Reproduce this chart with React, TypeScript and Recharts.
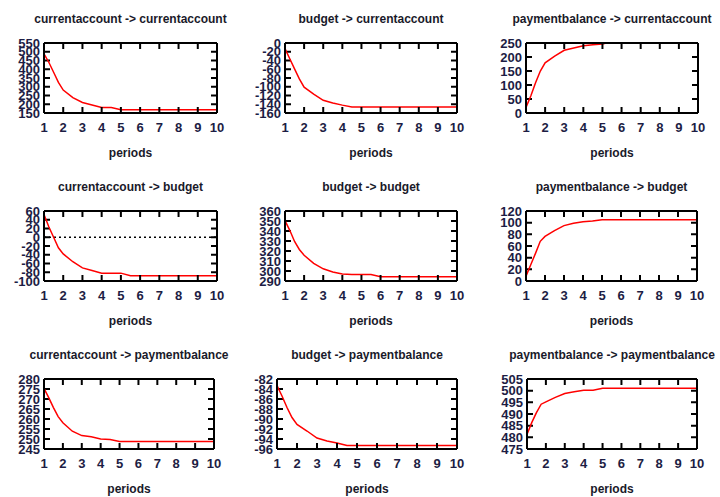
import React from 'react';
import { ComposedChart, Line, Scatter, XAxis, YAxis, ReferenceLine } from 'recharts';

const periods = [1, 1.25, 1.5, 1.75, 2, 2.5, 3, 3.5, 4, 4.5, 5, 5.5, 6, 7, 8, 9, 10];
const periodTicks = [1, 2, 3, 4, 5, 6, 7, 8, 9, 10];

// responses (one array per impulse -> response pair)
const caToCa = [488, 440, 383, 325, 281, 238, 210, 196, 181, 181, 169, 169, 169, 169, 169, 169, 169];
const budgetToCa = [-13, -36, -59, -82, -101, -117, -131, -137, -142, -146, -146, -146, -146, -146, -146, -146, -146];
const pbToCa = [20, 61, 108, 150, 179, 203, 224, 232, 240, 244, 246, 255, 255, 255, 255, 255, 255];
const caToBudget = [52, 24, 0, -24, -38, -56, -70, -76, -82, -82, -82, -88, -88, -88, -88, -88, -88];
const budgetToBudget = [350.4, 340.7, 329.5, 321.5, 315.7, 307.7, 302.2, 299, 297, 296.4, 296.4, 296.4, 294.2, 294.2, 294.2, 294.2, 294.2];
const pbToBudget = [8.4, 28, 47.4, 68, 76.5, 86.5, 95, 99, 101.6, 102.7, 105, 105, 105, 105, 105, 105, 105];
const caToPb = [275.3, 270.7, 265.7, 261.2, 258.1, 253.9, 251.7, 251.1, 250, 249.7, 248.8, 248.8, 248.8, 248.8, 248.8, 248.8, 248.8];
const budgetToPb = [-83.3, -85.4, -87.7, -89.7, -91.1, -92.4, -93.8, -94.4, -94.8, -95.3, -95.3, -95.3, -95.3, -95.3, -95.3, -95.3, -95.3];
const pbToPb = [481.2, 486.3, 490.6, 494.2, 495.2, 497.1, 498.8, 499.5, 500.2, 500.2, 501, 501, 501, 501, 501, 501, 501];

// y tick labels
const caToCaTicks = [150, 200, 250, 300, 350, 400, 450, 500, 550];
const budgetToCaTicks = [-160, -140, -120, -100, -80, -60, -40, -20, 0];
const pbToCaTicks = [0, 50, 100, 150, 200, 250];
const caToBudgetTicks = [-100, -80, -60, -40, -20, 0, 20, 40, 60];
const budgetToBudgetTicks = [290, 300, 310, 320, 330, 340, 350, 360];
const pbToBudgetTicks = [0, 20, 40, 60, 80, 100, 120];
const caToPbTicks = [245, 250, 255, 260, 265, 270, 275, 280];
const budgetToPbTicks = [-96, -94, -92, -90, -88, -86, -84, -82];
const pbToPbTicks = [475, 480, 485, 490, 495, 500, 505];

const titles = [
  'currentaccount -> currentaccount', 'budget -> currentaccount', 'paymentbalance -> currentaccount',
  'currentaccount -> budget', 'budget -> budget', 'paymentbalance -> budget',
  'currentaccount -> paymentbalance', 'budget -> paymentbalance', 'paymentbalance -> paymentbalance',
];
const series = [caToCa, budgetToCa, pbToCa, caToBudget, budgetToBudget, pbToBudget, caToPb, budgetToPb, pbToPb];
const yTicks = [caToCaTicks, budgetToCaTicks, pbToCaTicks, caToBudgetTicks, budgetToBudgetTicks, pbToBudgetTicks, caToPbTicks, budgetToPbTicks, pbToPbTicks];

// plot box left/right edges in page pixels
const boxes = [
  [44, 217], [285, 457], [526, 698],
  [44, 217], [285, 457], [526, 697],
  [44, 214], [277, 457], [527, 697],
];

const ROW_H = 168;
const BOX_TOP = 43;
const BOX_H = 70;
const TICK_LEN = 6;

const FONT = 'Liberation Sans, Arial, sans-serif';
const tickText = { fontFamily: FONT, fontWeight: 700, fontSize: 13, fill: '#1d1d44' };
const textStyle: React.CSSProperties = {
  position: 'absolute',
  width: 260,
  textAlign: 'center',
  fontFamily: FONT,
  fontWeight: 700,
  fontSize: 12,
  lineHeight: '14px',
  color: '#1a1a2a',
  whiteSpace: 'nowrap',
};
const frame = { stroke: '#000', strokeWidth: 2 };

function XTick(props: any) {
  const { x, y, payload } = props;
  return (
    <text x={x} y={y} dy="0.71em" textAnchor="middle" {...tickText}>
      {payload.value}
    </text>
  );
}

function YTick(props: any) {
  const { x, y, payload } = props;
  return (
    <text x={x} y={y} dy="0.36em" textAnchor="end" {...tickText}>
      {payload.value}
    </text>
  );
}

// tick mark shapes for the scatter series sitting on the top / bottom edge
function DownTick(props: any) {
  const { cx, cy } = props;
  return <path d={`M${cx},${cy}v${TICK_LEN}`} stroke="#000" strokeWidth={2} fill="none" />;
}
function UpTick(props: any) {
  const { cx, cy } = props;
  return <path d={`M${cx},${cy}v${-TICK_LEN}`} stroke="#000" strokeWidth={2} fill="none" />;
}

function Panel({ index }: { index: number }) {
  const row = Math.floor(index / 3);
  const col = index % 3;
  const colLeft = col * 240;
  const top = row * ROW_H;
  const [boxLeft, boxRight] = boxes[index];
  const boxW = boxRight - boxLeft;
  const ticks = yTicks[index];
  const yMin = ticks[0];
  const yMax = ticks[ticks.length - 1];
  const data = periods.map((x, i) => ({ x, y: series[index][i] }));
  const topMarks = periodTicks.map((x) => ({ x, y: yMax }));
  const bottomMarks = periodTicks.map((x) => ({ x, y: yMin }));
  const center = (boxLeft + boxRight) / 2;

  // dash pattern leaves only a short inward tick at each end of the line
  const yTickDash = `${TICK_LEN} ${boxW - 2 * TICK_LEN} ${TICK_LEN} 0`;

  return (
    <>
      <div style={{ ...textStyle, left: center - 130, top: top + BOX_TOP - 31 }}>{titles[index]}</div>
      <div style={{ ...textStyle, left: center - 130, top: top + BOX_TOP + BOX_H + 33 }}>periods</div>
      <div style={{ position: 'absolute', left: colLeft, top }}>
        <ComposedChart
          width={240}
          height={ROW_H}
          data={data}
          margin={{ top: BOX_TOP, right: colLeft + 240 - boxRight, bottom: 0, left: 0 }}
        >
          <XAxis
            dataKey="x"
            type="number"
            domain={[1, 10]}
            ticks={periodTicks}
            interval={0}
            height={ROW_H - BOX_TOP - BOX_H}
            tickSize={0}
            tickMargin={10}
            axisLine={frame}
            tickLine={false}
            tick={XTick}
          />
          <YAxis
            type="number"
            domain={[yMin, yMax]}
            ticks={ticks}
            interval={0}
            allowDataOverflow
            width={boxLeft - colLeft}
            tickSize={0}
            tickMargin={4}
            axisLine={frame}
            tickLine={false}
            tick={YTick}
          />
          {/* mirrored axes close the frame on top and right */}
          <XAxis
            xAxisId="top"
            orientation="top"
            mirror
            dataKey="x"
            type="number"
            domain={[1, 10]}
            axisLine={frame}
            tickLine={false}
            tick={false}
          />
          <YAxis
            yAxisId="right"
            orientation="right"
            mirror
            type="number"
            domain={[yMin, yMax]}
            axisLine={frame}
            tickLine={false}
            tick={false}
          />
          {ticks.map((t) => (
            <ReferenceLine key={`y${t}`} y={t} stroke="#000" strokeWidth={2} strokeDasharray={yTickDash} />
          ))}
          {index === 3 && (
            <ReferenceLine y={0} stroke="#000" strokeWidth={1.5} strokeDasharray="2 3" />
          )}
          <Scatter data={topMarks} dataKey="y" shape={DownTick} isAnimationActive={false} />
          <Scatter data={bottomMarks} dataKey="y" shape={UpTick} isAnimationActive={false} />
          <Line
            dataKey="y"
            type="linear"
            stroke="#ff0000"
            strokeWidth={1.5}
            dot={false}
            isAnimationActive={false}
          />
        </ComposedChart>
      </div>
    </>
  );
}

export default function App() {
  return (
    <div
      style={{
        position: 'absolute',
        left: 0,
        top: 0,
        width: 720,
        height: 497,
        overflow: 'hidden',
        background: '#fff',
      }}
    >
      {titles.map((_, i) => (
        <Panel key={i} index={i} />
      ))}
    </div>
  );
}
